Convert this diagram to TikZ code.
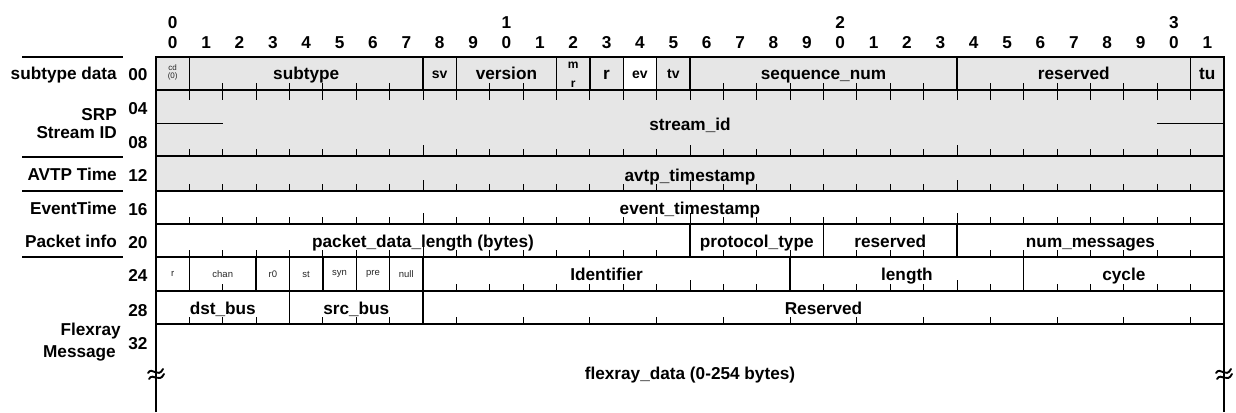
\documentclass[tikz,border=0pt]{standalone}
\usepackage{fontspec}
\setmainfont{Liberation Sans}
\definecolor{fillgray}{RGB}{230,230,230}
\newcommand{\bitx}[1]{156+33.375*(#1)}
\newcommand{\fsz}[1]{\fontsize{#1}{#1}\selectfont}
\begin{document}
\begin{tikzpicture}[x=1pt,y=-1pt,
  fld/.style={font=\fsz{17.2}\bfseries, inner sep=0pt, text height=12.5pt, text depth=3.6pt, yshift=-1.5pt},
  sfld/.style={font=\fsz{14}\bfseries, inner sep=0pt, text height=10pt, text depth=3pt, yshift=-1pt},
  mfld/.style={font=\fsz{12}\bfseries, inner sep=0pt},
  tfld/.style={font=\fsz{9.5}, inner sep=0pt, align=center, text=black!85},
  cfld/.style={font=\fsz{8}, inner sep=0pt, align=center, text=black!85},
  lbl/.style={font=\fsz{17.2}\bfseries, inner sep=0pt, anchor=east, align=right, text height=12.5pt, text depth=3.6pt, yshift=-1pt},
  num/.style={font=\fsz{17.2}\bfseries, inner sep=0pt, text height=12.5pt, text depth=0pt},
  hdr/.style={font=\fsz{17.2}\bfseries, inner sep=0pt, text height=12.5pt, text depth=0pt},
  frame/.style={line width=1.8pt},
  rowrule/.style={line width=1.4pt},
  sep/.style={line width=1.4pt},
  tck/.style={line width=0.9pt},
  lrule/.style={line width=1.1pt},
  brk/.style={line width=1.9pt, line cap=round}]
\useasboundingbox (0,0) rectangle (1236,412);
% fills
\fill[fillgray] (156,57) rectangle (1224,191);
\fill[white] ({\bitx{14}},57) rectangle ({\bitx{15}},90);
% header
\node[hdr] (h0) at ({\bitx{0.5}},22) {0};
\node[hdr] (h1) at ({\bitx{10.5}},22) {1};
\node[hdr] (h2) at ({\bitx{20.5}},22) {2};
\node[hdr] (h3) at ({\bitx{30.5}},22) {3};
\foreach \i in {0,...,31} {
  \pgfmathtruncatemacro\d{mod(\i,10)}
  \node[hdr] (b\i) at ({\bitx{\i+0.5}},42) {\d};
}
% horizontal rules
\foreach \yy in {90,156,191,224,291,324} {
  \draw[rowrule] (156,\yy) -- (1224,\yy);
}
\draw[frame] (156,257) -- (1224,257);
\draw[rowrule] (156,123.5) -- ({\bitx{2}},123.5);
\draw[rowrule] ({\bitx{30}},123.5) -- (1224,123.5);
% row 00 separators
\foreach \b in {1,8,9,12,13,14,15,16,24,31} {
  \draw[sep] ({\bitx{\b}},57) -- ({\bitx{\b}},90);
}
\foreach \b in {1,...,31} {
  \draw[tck] ({\bitx{\b}},90) -- ++(0,10);
}
% row 20 separators
\foreach \b in {16,20} {
  \draw[sep] ({\bitx{\b}},224) -- ({\bitx{\b}},257);
}
\draw[frame] ({\bitx{24}},224) -- ({\bitx{24}},257);
% row 24 separators
\foreach \b in {1,3,4,5,6,7,8,19,26} {
  \draw[sep] ({\bitx{\b}},257) -- ({\bitx{\b}},291);
}
% row 28 separators
\foreach \b in {4,8} {
  \draw[sep] ({\bitx{\b}},291) -- ({\bitx{\b}},324);
}
% ticks (upward from each row's bottom line)
\foreach \yy/\lst in {90/{2,3,4,5,6,7,10,11,17,18,19,20,21,22,23,25,26,27,28,29,30},
                      156/{1,...,31}, 191/{1,...,31}, 224/{1,...,31},
                      257/{1,...,15,17,18,19,21,22,23,25,26,27,28,29,30,31},
                      291/{2,9,10,11,12,13,14,15,16,17,18,20,21,22,23,24,25,27,28,29,30,31},
                      324/{1,2,3,5,6,7,9,...,31}} {
  \foreach \b in \lst {
    \pgfmathsetmacro\tl{ifthenelse(mod(\b,8)==0,11,7)}
    \draw[tck] ({\bitx{\b}},\yy) -- ++(0,-\tl);
  }
}
% outer frame
\draw[frame] (156,412) -- (156,57) -- (1224,57) -- (1224,412);
% row 00 texts
\node[cfld] (cd) at ({\bitx{0.5}},72) {cd\\(0)};
\node[fld] (subtype) at ({\bitx{4.5}},74) {subtype};
\node[sfld] (sv) at ({\bitx{8.5}},74) {sv};
\node[fld] (version) at ({\bitx{10.5}},74) {version};
\node[mfld] (mrm) at ({\bitx{12.5}},65) {m};
\node[mfld] (mrr) at ({\bitx{12.5}},84) {r};
\node[fld] (r) at ({\bitx{13.5}},74) {r};
\node[sfld] (ev) at ({\bitx{14.5}},74) {ev};
\node[sfld] (tv) at ({\bitx{15.5}},74) {tv};
\node[fld] (seq) at ({\bitx{20}},74) {sequence\_num};
\node[fld] (res0) at ({\bitx{27.5}},74) {reserved};
\node[fld] (tu) at ({\bitx{31.5}},74) {tu};
% other rows
\node[fld] (sid) at (690,125) {stream\_id};
\node[fld] (avtp) at (690,176) {avtp\_timestamp};
\node[fld] (evt) at (690,209) {event\_timestamp};
\node[fld] (pdl) at ({\bitx{8}},242) {packet\_data\_length (bytes)};
\node[fld] (ptype) at ({\bitx{18}},242) {protocol\_type};
\node[fld] (res20) at ({\bitx{22}},242) {reserved};
\node[fld] (nmsg) at ({\bitx{28}},242) {num\_messages};
\node[tfld] (fr) at ({\bitx{0.5}},274) {r};
\node[tfld] (chan) at ({\bitx{2}},274) {chan};
\node[tfld] (r0) at ({\bitx{3.5}},274) {r0};
\node[tfld] (st) at ({\bitx{4.5}},274) {st};
\node[tfld] (syn) at ({\bitx{5.5}},274) {syn};
\node[tfld] (pre) at ({\bitx{6.5}},274) {pre};
\node[tfld] (null) at ({\bitx{7.5}},274) {null};
\node[fld] (ident) at ({\bitx{13.5}},275) {Identifier};
\node[fld] (len) at ({\bitx{22.5}},275) {length};
\node[fld] (cyc) at ({\bitx{29}},275) {cycle};
\node[fld] (dst) at ({\bitx{2}},309) {dst\_bus};
\node[fld] (src) at ({\bitx{6}},309) {src\_bus};
\node[fld] (res28) at ({\bitx{20}},309) {Reserved};
\node[fld] (fdata) at (690,374) {flexray\_data (0-254 bytes)};
% break marks
\foreach \bx/\nm in {156/bl,1224/br} {
  \begin{scope}[shift={(\bx,374)}]
    \coordinate (\nm) at (0,0);
    \draw[brk] (-8,-1) .. controls (-4,-8) and (2,5) .. (7,-5);
    \draw[brk] (-7,5) .. controls (-3,-2) and (3,10) .. (8,0);
  \end{scope}
}
% left labels
\foreach \yy in {57,157,191,257} {
  \draw[lrule] (22,\yy) -- (123,\yy);
}
\node[lbl] (lsub) at (117,74) {subtype data};
\node[lbl] (lsrp) at (117,115) {SRP};
\node[lbl] (lsid) at (117,133) {Stream ID};
\node[lbl] (lavtp) at (117,175) {AVTP Time};
\node[lbl] (levt) at (117,209) {EventTime};
\node[lbl] (lpkt) at (117,242) {Packet info};
\node[lbl] (lfx) at (121,330) {Flexray};
\node[lbl] (lmsg) at (116,352) {Message};
\foreach \t/\yy in {00/74,04/108,08/142,12/175,16/209,20/242,24/275,28/310,32/343} {
  \node[num] (n\t) at (138,\yy) {\t};
}
\end{tikzpicture}
\end{document}
